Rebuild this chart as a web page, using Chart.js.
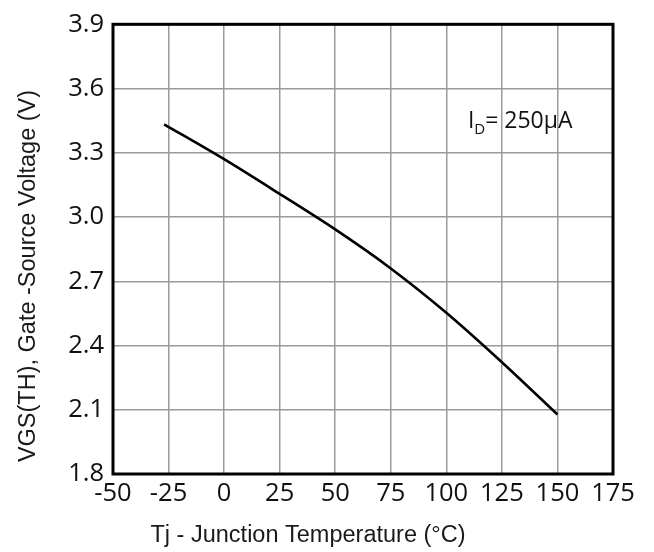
<!DOCTYPE html>
<html>
<head>
<meta charset="utf-8">
<script src="https://cdn.jsdelivr.net/npm/chart.js@4/dist/chart.umd.min.js"></script>
<style>
html,body{margin:0;padding:0;background:#fff;}
#wrap{width:654px;height:552px;}
</style>
</head>
<body>
<div id="wrap"><canvas id="c" width="654" height="552"></canvas></div>
<script>
const temps = [-27, 0, 25, 50, 75, 100, 125, 150];
const vgs   = [3.433, 3.27, 3.108, 2.942, 2.76, 2.553, 2.322, 2.078];
const xTicks = [-50, -25, 0, 25, 50, 75, 100, 125, 150, 175];
const yTicks = [1.8, 2.1, 2.4, 2.7, 3.0, 3.3, 3.6, 3.9];
const xTitle = "Tj - Junction Temperature (°C)";
const yTitle = "VGS(TH), Gate -Source Voltage (V)";
const noteMain = "I";
const noteSub = "D";
const noteRest = "= 250µA";

const tickFont = {family: "'Open Sans', sans-serif", size: 25.5};

const frame = {
  id: 'frame',
  afterDraw(chart) {
    const {ctx, chartArea: a} = chart;
    ctx.save();
    ctx.strokeStyle = '#000';
    ctx.lineWidth = 3;
    ctx.strokeRect(a.left, a.top, a.right - a.left, a.bottom - a.top);
    // titles
    ctx.fillStyle = '#1a1a1a';
    ctx.font = "23.5px 'Liberation Sans', Arial, sans-serif";
    ctx.textAlign = 'center';
    ctx.textBaseline = 'alphabetic';
    ctx.fillText(xTitle, 308, 542);
    ctx.save();
    ctx.translate(35, 276);
    ctx.rotate(-Math.PI / 2);
    ctx.fillText(yTitle, 0, 0);
    ctx.restore();
    // annotation
    const xs = chart.scales.x, ys = chart.scales.y;
    let x = xs.getPixelForValue(109.7);
    const y = ys.getPixelForValue(3.414);
    ctx.textAlign = 'left';
    ctx.fillStyle = '#111';
    ctx.font = "23px 'Open Sans', sans-serif";
    ctx.fillText(noteMain, x, y);
    x += ctx.measureText(noteMain).width;
    ctx.font = "15px 'Open Sans', sans-serif";
    ctx.fillText(noteSub, x, y + 6);
    x += ctx.measureText(noteSub).width;
    ctx.font = "23px 'Open Sans', sans-serif";
    ctx.fillText(noteRest, x, y);
    ctx.restore();
  }
};

new Chart(document.getElementById('c'), {
  type: 'scatter',
  data: {
    datasets: [{
      data: temps.map((t, i) => ({x: t, y: vgs[i]})),
      showLine: true,
      borderColor: '#000',
      borderWidth: 2.6,
      pointRadius: 0,
      tension: 0.3
    }]
  },
  options: {
    responsive: false,
    animation: false,
    layout: {padding: {left: 0, top: 20, right: 41, bottom: 0}},
    plugins: {legend: {display: false}, tooltip: {enabled: false}},
    scales: {
      x: {
        type: 'linear', min: -50, max: 175,
        afterBuildTicks(s) { s.ticks = xTicks.map(v => ({value: v})); },
        afterFit(s) { s.height = 78; },
        ticks: {font: tickFont, color: '#111', padding: 4, maxRotation: 0, autoSkip: false},
        grid: {color: '#9a9a9a', lineWidth: 1.5, drawTicks: false},
        border: {display: false}
      },
      y: {
        type: 'linear', min: 1.8, max: 3.9,
        afterBuildTicks(s) { s.ticks = yTicks.map(v => ({value: v})); },
        afterFit(s) { s.width = 113; },
        ticks: {font: tickFont, color: '#111', padding: 9, callback: v => Number(v).toFixed(1), autoSkip: false},
        grid: {color: '#9a9a9a', lineWidth: 1.5, drawTicks: false},
        border: {display: false}
      }
    }
  },
  plugins: [frame]
});
</script>
</body>
</html>
